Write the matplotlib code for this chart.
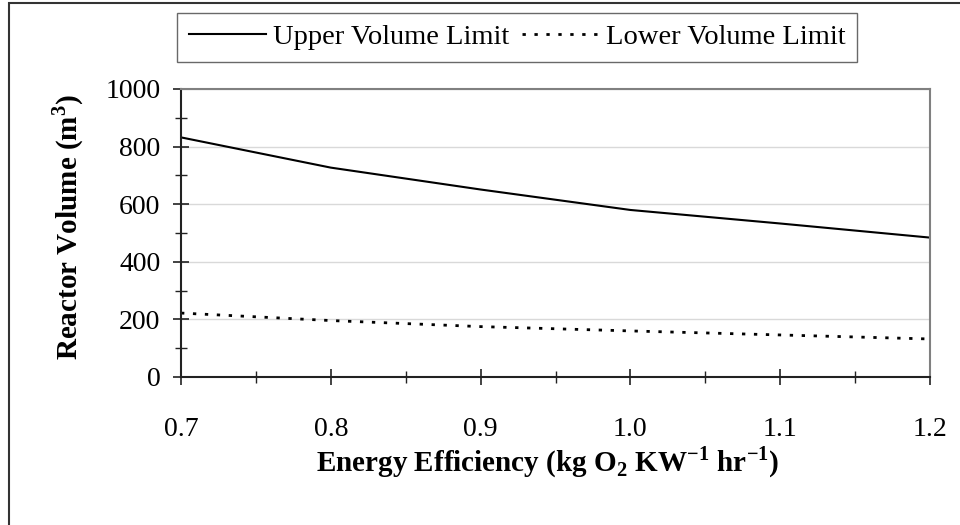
import matplotlib

matplotlib.use("Agg")
import matplotlib.pyplot as plt
from matplotlib.patches import Rectangle
from matplotlib.ticker import MultipleLocator

plt.rcParams["font.family"] = ["Liberation Serif", "DejaVu Serif"]
plt.rcParams["mathtext.fontset"] = "custom"
plt.rcParams["mathtext.rm"] = "Liberation Serif"
plt.rcParams["mathtext.bf"] = "Liberation Serif:bold"

# energy efficiency (kg O2 / kW / hr) vs reactor volume (m3)
efficiency = [0.7, 0.8, 0.9, 1.0, 1.1, 1.2]
upper_volume = [832, 727, 651, 580, 533, 484]
lower_volume = [222, 196, 175, 160, 146, 132]

fig = plt.figure(figsize=(9.6, 5.25), dpi=100)
ax = fig.add_axes([181 / 960, 1 - 377 / 525, 749 / 960, 288 / 525])

ax.plot(efficiency, upper_volume, color="black", lw=1.5, label="Upper Volume Limit")
ax.plot(efficiency, lower_volume, color="black", lw=2.0, ls=(0, (1.2, 3.1)),
        label="Lower Volume Limit")

ax.set_xlim(0.7, 1.2)
ax.set_ylim(0, 1000)
ax.xaxis.set_major_locator(MultipleLocator(0.1))
ax.xaxis.set_minor_locator(MultipleLocator(0.05))
ax.yaxis.set_major_locator(MultipleLocator(200))
ax.yaxis.set_minor_locator(MultipleLocator(100))
ax.xaxis.set_major_formatter(lambda v, _: f"{v:.1f}")

ax.grid(True, axis="y", which="major", color="#d9d9d9", lw=1.0)
ax.set_axisbelow(True)

for side in ("left", "bottom"):
    ax.spines[side].set_color("#222222")
    ax.spines[side].set_linewidth(1.5)
for side in ("top", "right"):
    ax.spines[side].set_color("#808080")
    ax.spines[side].set_linewidth(1.5)

ax.tick_params(axis="both", which="major", direction="inout", length=11.5, width=1.2,
               color="#222222", labelsize=20)
ax.tick_params(axis="both", which="minor", direction="inout", length=8, width=1.0,
               color="#222222")
ax.tick_params(axis="x", which="major", pad=23)
ax.tick_params(axis="y", which="major", pad=9)

ax.set_ylabel(r"Reactor Volume (m$^{\mathbf{3}}$)", fontsize=21, fontweight="bold",
              va="center")
ax.yaxis.set_label_coords(-0.151, 0.52)
ax.set_xlabel(r"Energy Efficiency (kg O$_{\mathbf{2}}$ KW$^{\mathbf{-1}}$ hr$^{\mathbf{-1}}$)",
              fontsize=21, fontweight="bold", va="center")
ax.xaxis.set_label_coords(0.49, -0.295)

leg = fig.legend(loc="center", bbox_to_anchor=(517 / 960, 1 - 37.5 / 525), ncol=2,
                 fontsize=20.5, frameon=True, fancybox=False, edgecolor="#444444",
                 handlelength=2.7, handletextpad=0.25, columnspacing=0.45,
                 borderpad=0.42)
leg.get_frame().set_linewidth(1.0)

# outer chart border (only left and top edges fall inside the image)
fig.patches.append(Rectangle((9 / 960, -0.1), 1.2, 1.1 - 3 / 525,
                             transform=fig.transFigure, fill=False,
                             edgecolor="#333333", lw=1.5))

fig.savefig("out.png", dpi=100)
